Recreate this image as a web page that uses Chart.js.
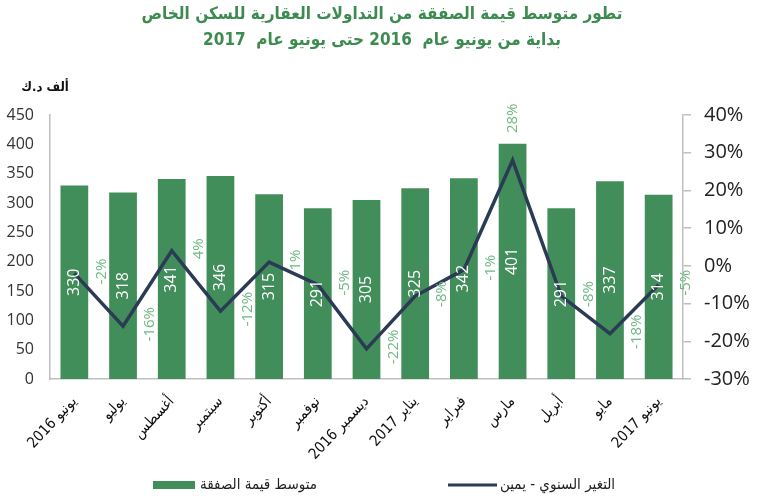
<!DOCTYPE html>
<html>
<head>
<meta charset="utf-8">
<script src="https://cdn.jsdelivr.net/npm/chart.js@4.4.1/dist/chart.umd.min.js"></script>
<style>
  html, body { margin: 0; padding: 0; background: #ffffff; }
  #wrap { width: 764px; height: 500px; }
</style>
</head>
<body>
<div id="wrap"><canvas id="c" width="764" height="500"></canvas></div>
<script>
// ---- Data ----
const categories = ['يونيو 2016', 'يوليو', 'أغسطس', 'سبتمبر', 'أكتوبر', 'نوفمبر', 'ديسمبر 2016', 'يناير 2017', 'فبراير', 'مارس', 'أبريل', 'مايو', 'يونيو 2017'];
const avgDealValue = [330, 318, 341, 346, 315, 291, 305, 325, 342, 401, 291, 337, 314];
const annualChange = [-2, -16, 4, -12, 1, -5, -22, -8, -1, 28, -8, -18, -5];
const leftAxisRange = [0, 450, 50];
const rightAxisRange = [-30, 40, 10];
const titleLines = ['تطور متوسط قيمة الصفقة من التداولات العقارية للسكن الخاص', 'بداية من يونيو عام  2016 حتى يونيو عام  2017'];
const unitLabel = 'ألف د.ك';
const seriesNames = ['متوسط قيمة الصفقة', 'التغير السنوي - يمين'];

const GREEN = '#428e5a';
const TITLE_GREEN = '#3d8b50';
const NAVY = '#2b3a55';
const LABEL_GREEN = '#6fb883';
const AXIS_GRAY = '#bfbfbf';
const ARABIC_FONT = '"DejaVu Sans Condensed", "DejaVu Sans", sans-serif';
const NUM_FONT = '"Open Sans", sans-serif';

const labelsPlugin = {
  id: 'labelsPlugin',
  afterDatasetsDraw(chart) {
    const ctx = chart.ctx;
    const barMeta = chart.getDatasetMeta(0);
    ctx.save();
    ctx.textAlign = 'center';
    ctx.textBaseline = 'middle';
    barMeta.data.forEach((el, i) => {
      const yc = (el.y + el.base) / 2;
      ctx.save();
      ctx.translate(el.x, yc);
      ctx.rotate(-Math.PI / 2);
      ctx.fillStyle = '#ffffff';
      ctx.font = '16px ' + NUM_FONT;
      ctx.fillText(String(avgDealValue[i]), 0, 0);
      ctx.restore();
    });
    const lineMeta = chart.getDatasetMeta(1);
    const maxV = Math.max(...annualChange);
    lineMeta.data.forEach((el, i) => {
      const v = annualChange[i];
      let x = el.x + 27, y = el.y - 2;
      if (v === maxV) { x = el.x; y = el.y - 42; }
      ctx.save();
      ctx.translate(x, y);
      ctx.rotate(-Math.PI / 2);
      ctx.fillStyle = LABEL_GREEN;
      ctx.font = '15px ' + NUM_FONT;
      ctx.fillText(v + '%', 0, 0);
      ctx.restore();
    });
    ctx.restore();
  },
  afterDraw(chart) {
    const ctx = chart.ctx;
    ctx.save();
    // unit label
    ctx.fillStyle = '#111111';
    ctx.font = 'bold 13px ' + ARABIC_FONT;
    ctx.textAlign = 'center';
    ctx.textBaseline = 'middle';
    ctx.fillText(unitLabel, 45, 88);
    // legend
    const ly = 485;
    ctx.fillStyle = GREEN;
    ctx.fillRect(153, ly - 4, 42, 8);
    ctx.fillStyle = '#222222';
    ctx.font = '15px ' + ARABIC_FONT;
    ctx.textAlign = 'left';
    ctx.fillText(seriesNames[0], 200, ly);
    ctx.strokeStyle = NAVY;
    ctx.lineWidth = 3;
    ctx.beginPath();
    ctx.moveTo(448, ly);
    ctx.lineTo(497, ly);
    ctx.stroke();
    ctx.fillText(seriesNames[1], 500, ly);
    ctx.restore();
  }
};

new Chart(document.getElementById('c'), {
  data: {
    labels: categories,
    datasets: [
      {
        type: 'bar',
        label: seriesNames[0],
        data: avgDealValue,
        backgroundColor: GREEN,
        barPercentage: 1,
        categoryPercentage: 0.57,
        yAxisID: 'y',
        order: 2
      },
      {
        type: 'line',
        label: seriesNames[1],
        data: annualChange,
        borderColor: NAVY,
        backgroundColor: NAVY,
        borderWidth: 3.5,
        pointRadius: 0,
        tension: 0,
        yAxisID: 'y1',
        order: 1
      }
    ]
  },
  options: {
    responsive: false,
    devicePixelRatio: 1,
    animation: false,
    layout: { padding: { top: 0, left: 0, right: 0, bottom: 0 } },
    plugins: {
      legend: { display: false },
      tooltip: { enabled: false },
      title: {
        display: true,
        text: titleLines,
        color: TITLE_GREEN,
        font: { family: ARABIC_FONT, size: 17, weight: 'bold', lineHeight: 1.5 },
        padding: { top: 2, bottom: 62 }
      }
    },
    scales: {
      x: {
        grid: { display: false },
        border: { color: AXIS_GRAY, width: 1.5 },
        ticks: {
          autoSkip: false,
          minRotation: 47,
          maxRotation: 47,
          padding: 6,
          color: '#111111',
          font: { family: ARABIC_FONT, size: 15 }
        },
        afterFit: s => { s.height = 121; }
      },
      y: {
        position: 'left',
        min: leftAxisRange[0],
        max: leftAxisRange[1],
        grid: { display: false, drawOnChartArea: false, drawTicks: false },
        border: { color: AXIS_GRAY, width: 1.5 },
        ticks: {
          stepSize: leftAxisRange[2],
          padding: 16,
          color: '#333333',
          font: { family: NUM_FONT, size: 16 }
        },
        afterFit: s => { s.width = 50; }
      },
      y1: {
        position: 'right',
        min: rightAxisRange[0],
        max: rightAxisRange[1],
        grid: { display: true, drawOnChartArea: false, drawTicks: true, tickLength: 8, color: AXIS_GRAY, lineWidth: 1.5 },
        border: { color: AXIS_GRAY, width: 1.5 },
        ticks: {
          stepSize: rightAxisRange[2],
          padding: 13,
          color: '#222222',
          font: { family: NUM_FONT, size: 20 },
          callback: v => v + '%'
        },
        afterFit: s => { s.width = 81; }
      }
    }
  },
  plugins: [labelsPlugin]
});
</script>
</body>
</html>
